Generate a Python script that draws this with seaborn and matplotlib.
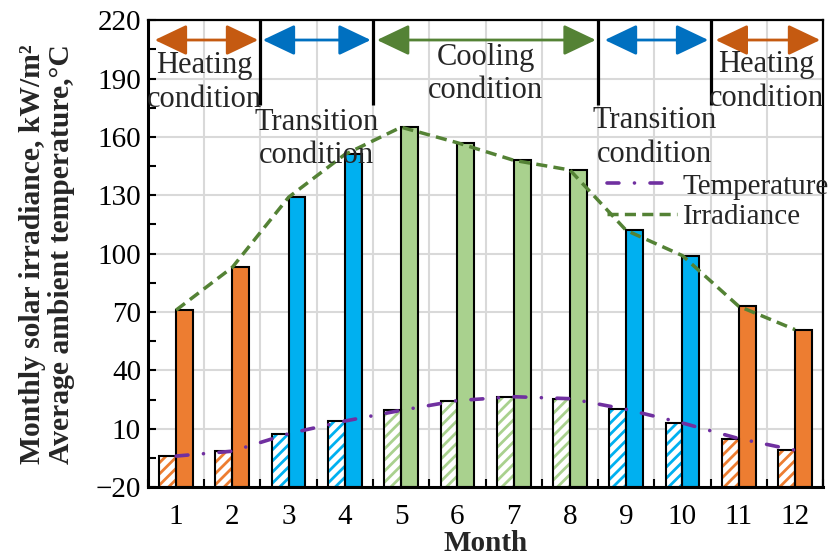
import numpy as np
import pandas as pd
import matplotlib
matplotlib.use("Agg")
import matplotlib.pyplot as plt
import seaborn as sns
from matplotlib.patches import FancyArrowPatch
from matplotlib.ticker import FixedLocator

# ---- data ----
months = list(range(1, 13))
temperature = [-4, -1.5, 7.5, 14, 19.5, 24.5, 26.5, 25.5, 20, 13, 5, -1]
irradiance = [71, 93, 129, 151, 165, 157, 148, 143, 112, 99, 73, 61]
season = ["Heating", "Heating", "Transition", "Transition",
          "Cooling", "Cooling", "Cooling", "Cooling",
          "Transition", "Transition", "Heating", "Heating"]
season_names = ["Heating", "Transition", "Cooling", "Transition", "Heating"]
season_start = [0.62, 2.54, 4.57, 8.62, 10.59]
season_end = [2.46, 4.46, 8.46, 10.46, 12.45]
season_label_x = [1.5, 3.5, 6.5, 9.5, 11.5]
season_label_y = [188, 159, 192.4, 159.7, 188.4]
dividers = [2.5, 4.5, 8.5, 10.5]
y_ticks = list(range(-20, 221, 30))

bar_colors = {"Heating": "#ED7D31", "Transition": "#00B0F0", "Cooling": "#A9D18E"}
arrow_colors = {"Heating": "#C55A11", "Transition": "#0070C0", "Cooling": "#548235"}

df = pd.DataFrame({"month": months, "temperature": temperature,
                   "irradiance": irradiance, "season": season})

sns.set_theme(style="white")
plt.rcParams["font.family"] = ["Liberation Serif", "DejaVu Serif"]
plt.rcParams["hatch.linewidth"] = 2.0
FS_TICK = 21
FS_NOTE = 22
FS_LEG = 21
FS_LABEL = 21
FS_YLABEL = 21.3

fig, ax = plt.subplots(figsize=(8.36, 5.6), dpi=100)
fig.subplots_adjust(left=0.177, right=0.9845, top=0.964, bottom=0.130)

base = y_ticks[0]
w = 0.3
x = np.array(df["month"], dtype=float)
cols = [bar_colors[s] for s in df["season"]]

# temperature bars: white with coloured diagonal hatch
ax.bar(x - w / 2, df["temperature"] - base, bottom=base, width=w,
       facecolor="white", edgecolor=cols, hatch="///", linewidth=0, zorder=2)
ax.bar(x - w / 2, df["temperature"] - base, bottom=base, width=w,
       fill=False, edgecolor="black", linewidth=1.5, zorder=2.1)
# irradiance bars: solid
ax.bar(x + w / 2, df["irradiance"] - base, bottom=base, width=w,
       color=cols, edgecolor="black", linewidth=1.5, zorder=2)

# trend lines
sns.lineplot(data=df, x="month", y="temperature", ax=ax, color="#7030A0",
             lw=2.6, label="Temperature", zorder=3)
l_t = ax.lines[-1]
l_t.set_dashes((3.3, 4.3, 0.01, 4.3))
l_t.set_dash_capstyle("round")
sns.lineplot(data=df, x="month", y="irradiance", ax=ax, color="#548235",
             lw=2.5, label="Irradiance", zorder=3)
l_i = ax.lines[-1]
l_i.set_dashes((3.2, 1.8))

# season arrows, dividers and labels
arrow_y = 209.8
for name, x0, x1 in zip(season_names, season_start, season_end):
    arr = FancyArrowPatch((x0, arrow_y), (x1, arrow_y),
                          arrowstyle="<|-|>,head_length=20,head_width=9.5",
                          mutation_scale=1, shrinkA=0, shrinkB=0,
                          color=arrow_colors[name], lw=2, zorder=5)
    ax.add_patch(arr)
ax.vlines(dividers, 176.5, 220, color="black", lw=2.3, zorder=5)
for name, lx, ly in zip(season_names, season_label_x, season_label_y):
    ax.text(lx, ly, f"{name}\ncondition", ha="center", va="center",
            fontsize=FS_NOTE, linespacing=1.2, zorder=6)

# axes
ax.set_xlim(0.5, 12.5)
ax.set_ylim(-20, 220)
ax.set_xticks(months)
ax.set_xticklabels([str(m) for m in months])
ax.set_xticks(np.arange(0.5, 13, 1), minor=True)
ax.set_yticks(y_ticks)
ax.yaxis.set_minor_locator(FixedLocator(np.arange(-20, 221, 15)))
ax.tick_params(axis="x", which="major", length=0, pad=12, labelsize=FS_TICK, colors="black")
ax.tick_params(axis="x", which="minor", direction="in", length=6, width=1.5,
               color="black", bottom=True)
ax.tick_params(axis="y", which="both", direction="in", length=6, width=1.5,
               color="black", left=True, pad=5, labelsize=FS_TICK, labelcolor="black")
ax.grid(which="minor", axis="x", color="#D9D9D9", lw=1.5)
ax.grid(which="major", axis="y", color="#D9D9D9", lw=1.5)
ax.grid(which="major", axis="x", visible=False)
ax.set_axisbelow(True)
for side in ["left", "bottom"]:
    ax.spines[side].set_linewidth(2.2)
    ax.spines[side].set_color("black")
for side in ["top", "right"]:
    ax.spines[side].set_linewidth(1.6)
    ax.spines[side].set_color("black")
    ax.spines[side].set_visible(True)

ax.set_xlabel("Month", fontsize=FS_LABEL, fontweight="bold", labelpad=0)
ax.set_ylabel("Monthly solar irradiance, kW/m²\nAverage ambient temperature,°C",
              fontsize=FS_YLABEL, fontweight="bold", linespacing=1.08)
ax.yaxis.set_label_coords(-0.108, 0.5)

ax.legend(loc="center left", bbox_to_anchor=(0.68, 0.611), frameon=False,
          fontsize=FS_LEG, handlelength=2.4, handletextpad=0.2, labelspacing=0.15,
          borderpad=0, borderaxespad=0)

fig.savefig("out.png", dpi=100)
